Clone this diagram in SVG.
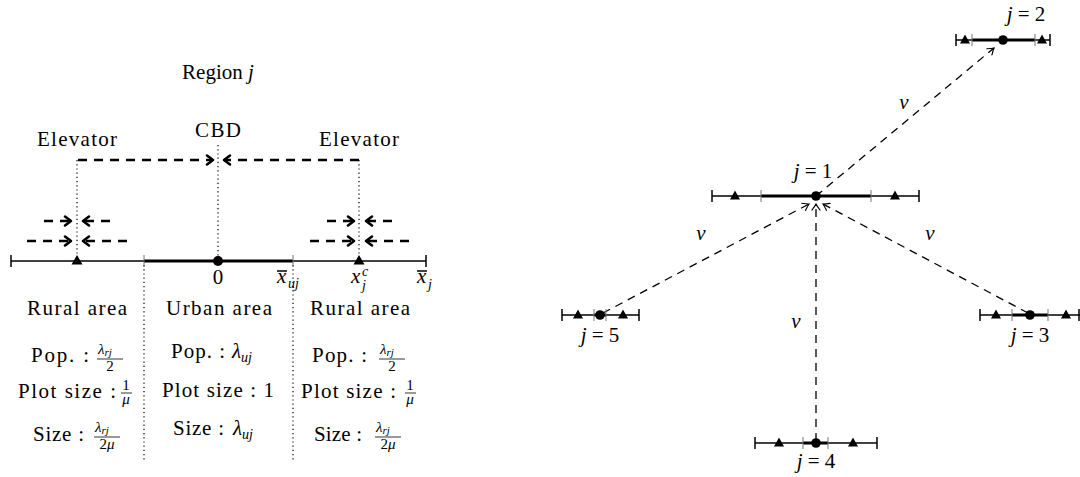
<svg xmlns="http://www.w3.org/2000/svg" width="1080" height="477" viewBox="0 0 1080 477">
<style>
text{font-family:"Liberation Serif","Times New Roman",serif;fill:#000}
.t{font-size:21px}
.m{font-size:21px;font-style:italic}
.f{font-size:15px}
.fi{font-size:15px;font-style:italic}
.sb{font-size:11px;font-style:italic}
.sb14{font-size:14px;font-style:italic}
.ax{stroke:#000;stroke-width:1.5;fill:none}
.axk{stroke:#000;stroke-width:3;fill:none}
.tk{stroke:#000;stroke-width:1.5}
.tki{stroke:#777;stroke-width:1}
.dot{stroke:#000;stroke-width:1.2;stroke-dasharray:1.2 3;fill:none}
.thick{stroke:#000;stroke-width:2.6;stroke-dasharray:9 7;fill:none}
.thin{stroke:#000;stroke-width:1.3;stroke-dasharray:8 6;fill:none}
.fr{stroke:#000;stroke-width:0.8}
</style>
<defs>
<marker id="ah" viewBox="-10 -10 20 20" markerWidth="20" markerHeight="20" refX="0" refY="0" orient="auto" markerUnits="userSpaceOnUse">
<path d="M-6,-4.5 L0,0 L-6,4.5" fill="none" stroke="#000" stroke-width="2.6" stroke-linecap="round" stroke-linejoin="round"/>
</marker>
<marker id="as" viewBox="-10 -10 20 20" markerWidth="20" markerHeight="20" refX="0" refY="0" orient="auto" markerUnits="userSpaceOnUse">
<path d="M-6,-4 Q-2,-1 0,0 Q-2,1 -6,4" fill="none" stroke="#000" stroke-width="1.2" stroke-linecap="round"/>
</marker>
<polygon id="tri" points="-5.5,3.5 5.5,3.5 0,-6" fill="#000"/>
<polygon id="tris" points="-5,3.5 5,3.5 0,-5.5" fill="#000"/>
</defs>

<g id="left-region">
<text class="t" x="218" y="79" text-anchor="middle">Region <tspan class="m">j</tspan></text>
</g>

<g id="left-guides">
<line class="dot" x1="77" y1="160" x2="77" y2="261"/>
<line class="dot" x1="218" y1="145" x2="218" y2="261"/>
<line class="dot" x1="359" y1="160" x2="359" y2="261"/>
<line class="dot" x1="144" y1="265" x2="144" y2="460"/>
<line class="dot" x1="293" y1="265" x2="293" y2="460"/>
</g>

<g id="left-connectors">
<line class="thick" x1="78" y1="160" x2="213" y2="160" marker-end="url(#ah)"/>
<line class="thick" x1="359" y1="160" x2="224" y2="160" marker-end="url(#ah)"/>
<line class="thick" x1="44" y1="221" x2="71" y2="221" marker-end="url(#ah)"/>
<line class="thick" x1="110" y1="221" x2="83" y2="221" marker-end="url(#ah)"/>
<line class="thick" x1="27" y1="241" x2="71" y2="241" marker-end="url(#ah)"/>
<line class="thick" x1="127" y1="241" x2="83" y2="241" marker-end="url(#ah)"/>
<line class="thick" x1="327" y1="221" x2="354" y2="221" marker-end="url(#ah)"/>
<line class="thick" x1="392" y1="221" x2="366" y2="221" marker-end="url(#ah)"/>
<line class="thick" x1="310" y1="241" x2="354" y2="241" marker-end="url(#ah)"/>
<line class="thick" x1="409" y1="241" x2="366" y2="241" marker-end="url(#ah)"/>
</g>

<g id="cbd">
<text class="t" x="218" y="137" text-anchor="middle" textLength="46">CBD</text>
</g>
<g id="elevator-left">
<text class="t" x="77" y="146" text-anchor="middle" textLength="80">Elevator</text>
</g>
<g id="elevator-right">
<text class="t" x="359" y="146" text-anchor="middle" textLength="80">Elevator</text>
</g>

<g id="axis">
<line class="ax" x1="11" y1="261" x2="144" y2="261"/>
<line class="axk" x1="144" y1="261" x2="293" y2="261"/>
<line class="ax" x1="293" y1="261" x2="426" y2="261"/>
<line class="tk" x1="11" y1="255" x2="11" y2="267"/>
<line class="tk" x1="426" y1="255" x2="426" y2="267"/>
<line class="tki" x1="144" y1="255" x2="144" y2="267"/>
<line class="tki" x1="293" y1="255" x2="293" y2="267"/>
<circle cx="218" cy="261" r="5"/>
<use href="#tri" x="77" y="261"/>
<use href="#tri" x="359" y="261"/>
<text class="t" x="218" y="284" text-anchor="middle">0</text>
<text class="m" x="277" y="283">x</text>
<line class="tk" x1="277" y1="271" x2="287" y2="271" stroke-width="1"/>
<text class="sb14" x="288" y="288">uj</text>
<text class="m" x="351" y="283">x</text>
<text class="sb14" x="362" y="276">c</text>
<text class="sb14" x="362" y="290">j</text>
<text class="m" x="417" y="283">x</text>
<line class="tk" x1="417" y1="271" x2="427" y2="271" stroke-width="1"/>
<text class="sb14" x="428" y="289">j</text>
</g>

<g id="rural-left">
<text class="t" x="77" y="315" text-anchor="middle" textLength="100">Rural area</text>
<text class="t" x="89" y="362" text-anchor="end" textLength="58">Pop. :</text>
<text class="fi" x="98" y="354">λ<tspan class="sb" dy="2">rj</tspan></text>
<line class="fr" x1="97" y1="359" x2="123" y2="359"/>
<text class="f" x="110" y="371" text-anchor="middle">2</text>
<text class="t" x="116" y="398" text-anchor="end" textLength="98">Plot size :</text>
<text class="f" x="126" y="390" text-anchor="middle">1</text>
<line class="fr" x1="121" y1="393" x2="132" y2="393"/>
<text class="fi" x="126" y="404" text-anchor="middle">μ</text>
<text class="t" x="84" y="441" text-anchor="end" textLength="51">Size :</text>
<text class="fi" x="95" y="432">λ<tspan class="sb" dy="2">rj</tspan></text>
<line class="fr" x1="94" y1="437" x2="120" y2="437"/>
<text class="fi" x="107" y="449" text-anchor="middle"><tspan font-style="normal">2</tspan>μ</text>
</g>

<g id="urban">
<text class="t" x="219" y="315" text-anchor="middle" textLength="106">Urban area</text>
<text class="t" x="171" y="358" textLength="54">Pop. :</text>
<text class="m" x="232" y="358">λ<tspan class="sb14" dy="4">uj</tspan></text>
<text class="t" x="218" y="397" text-anchor="middle" textLength="112">Plot size : 1</text>
<text class="t" x="173" y="435" textLength="51">Size :</text>
<text class="m" x="233" y="435">λ<tspan class="sb14" dy="4">uj</tspan></text>
</g>

<g id="rural-right">
<text class="t" x="360" y="315" text-anchor="middle" textLength="100">Rural area</text>
<text class="t" x="367" y="362" text-anchor="end" textLength="55">Pop. :</text>
<text class="fi" x="380" y="354">λ<tspan class="sb" dy="2">rj</tspan></text>
<line class="fr" x1="379" y1="359" x2="405" y2="359"/>
<text class="f" x="392" y="371" text-anchor="middle">2</text>
<text class="t" x="396" y="398" text-anchor="end" textLength="95">Plot size :</text>
<text class="f" x="410" y="390" text-anchor="middle">1</text>
<line class="fr" x1="405" y1="393" x2="416" y2="393"/>
<text class="fi" x="410" y="404" text-anchor="middle">μ</text>
<text class="t" x="362" y="441" text-anchor="end" textLength="48">Size :</text>
<text class="fi" x="376" y="432">λ<tspan class="sb" dy="2">rj</tspan></text>
<line class="fr" x1="375" y1="437" x2="401" y2="437"/>
<text class="fi" x="388" y="449" text-anchor="middle"><tspan font-style="normal">2</tspan>μ</text>
</g>

<g id="connectors">
<line class="thin" x1="816" y1="196" x2="994" y2="48" marker-end="url(#as)"/>
<line class="thin" x1="603" y1="313" x2="809" y2="204" marker-end="url(#as)"/>
<line class="thin" x1="816" y1="441" x2="816" y2="204" marker-end="url(#as)"/>
<line class="thin" x1="1028" y1="313" x2="823" y2="204" marker-end="url(#as)"/>
<text class="m" x="904" y="109" text-anchor="middle">ν</text>
<text class="m" x="701" y="240" text-anchor="middle">ν</text>
<text class="m" x="930" y="240" text-anchor="middle">ν</text>
<text class="m" x="796" y="328" text-anchor="middle">ν</text>
</g>

<g id="node-j1">
<line class="ax" x1="712" y1="196" x2="919" y2="196"/>
<line class="axk" x1="761" y1="196" x2="871" y2="196"/>
<line class="tk" x1="712" y1="190" x2="712" y2="202"/>
<line class="tk" x1="919" y1="190" x2="919" y2="202"/>
<line class="tki" x1="761" y1="190" x2="761" y2="202"/>
<line class="tki" x1="871" y1="190" x2="871" y2="202"/>
<use href="#tris" x="735" y="196"/>
<use href="#tris" x="895" y="196"/>
<circle cx="816" cy="196" r="4.8"/>
<text class="t" x="813" y="178" text-anchor="middle"><tspan font-style="italic">j</tspan> = 1</text>
</g>

<g id="node-j2">
<line class="ax" x1="956" y1="40" x2="1050" y2="40"/>
<line class="axk" x1="972" y1="40" x2="1035" y2="40"/>
<line class="tk" x1="956" y1="34" x2="956" y2="46"/>
<line class="tk" x1="1050" y1="34" x2="1050" y2="46"/>
<line class="tki" x1="972" y1="34" x2="972" y2="46"/>
<line class="tki" x1="1035" y1="34" x2="1035" y2="46"/>
<use href="#tris" x="965" y="40"/>
<use href="#tris" x="1042" y="40"/>
<circle cx="1003" cy="40" r="4.8"/>
<text class="t" x="1026" y="21" text-anchor="middle"><tspan font-style="italic">j</tspan> = 2</text>
</g>

<g id="node-j3">
<line class="ax" x1="980" y1="315" x2="1080" y2="315"/>
<line class="axk" x1="1012" y1="315" x2="1048" y2="315"/>
<line class="tk" x1="980" y1="309" x2="980" y2="321"/>
<line class="tk" x1="1079" y1="309" x2="1079" y2="321"/>
<line class="tki" x1="1012" y1="309" x2="1012" y2="321"/>
<line class="tki" x1="1048" y1="309" x2="1048" y2="321"/>
<use href="#tris" x="996" y="315"/>
<use href="#tris" x="1066" y="315"/>
<circle cx="1030" cy="315" r="4.8"/>
<text class="t" x="1030" y="342" text-anchor="middle"><tspan font-style="italic">j</tspan> = 3</text>
</g>

<g id="node-j4">
<line class="ax" x1="755" y1="443" x2="877" y2="443"/>
<line class="axk" x1="803" y1="443" x2="828" y2="443"/>
<line class="tk" x1="755" y1="437" x2="755" y2="449"/>
<line class="tk" x1="877" y1="437" x2="877" y2="449"/>
<line class="tki" x1="803" y1="437" x2="803" y2="449"/>
<line class="tki" x1="828" y1="437" x2="828" y2="449"/>
<use href="#tris" x="779" y="443"/>
<use href="#tris" x="853" y="443"/>
<circle cx="816" cy="443" r="4.8"/>
<text class="t" x="816" y="468" text-anchor="middle"><tspan font-style="italic">j</tspan> = 4</text>
</g>

<g id="node-j5">
<line class="ax" x1="562" y1="315" x2="639" y2="315"/>
<line class="axk" x1="594" y1="315" x2="606" y2="315"/>
<line class="tk" x1="562" y1="309" x2="562" y2="321"/>
<line class="tk" x1="639" y1="309" x2="639" y2="321"/>
<line class="tki" x1="594" y1="309" x2="594" y2="321"/>
<line class="tki" x1="606" y1="309" x2="606" y2="321"/>
<use href="#tris" x="578" y="315"/>
<use href="#tris" x="623" y="315"/>
<circle cx="600" cy="315" r="4.8"/>
<text class="t" x="600" y="342" text-anchor="middle"><tspan font-style="italic">j</tspan> = 5</text>
</g>
</svg>
